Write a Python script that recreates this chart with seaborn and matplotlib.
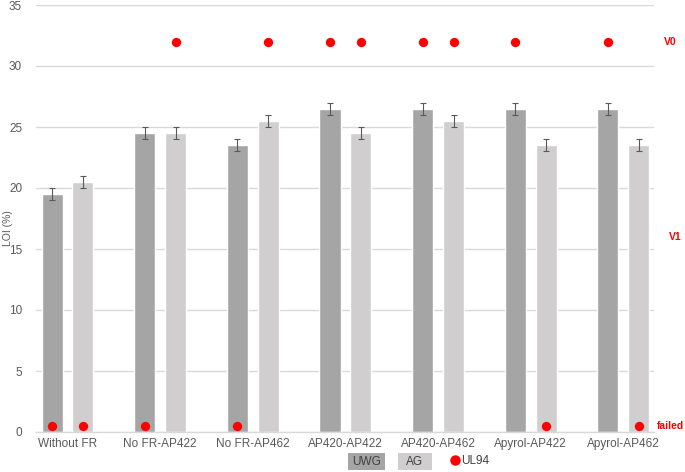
import numpy as np
import pandas as pd
import matplotlib
matplotlib.use("Agg")
import matplotlib.pyplot as plt
from matplotlib.patches import Rectangle
from matplotlib.transforms import blended_transform_factory
import seaborn as sns

# ── Data ──────────────────────────────────────────────────────────────────────
categories = ["Without FR", "No FR-AP422", "No FR-AP462", "AP420-AP422",
              "AP420-AP462", "Apyrol-AP422", "Apyrol-AP462"]
loi_uwg = [19.5, 24.5, 23.5, 26.5, 26.5, 26.5, 26.5]
loi_ag  = [20.5, 24.5, 25.5, 24.5, 25.5, 23.5, 23.5]
err_uwg = [0.5, 0.5, 0.5, 0.5, 0.5, 0.5, 0.5]
err_ag  = [0.5, 0.5, 0.5, 0.5, 0.5, 0.5, 0.5]
# UL94 rating shown as dot height: 32 = V0, 0.5 = failed
ul94_uwg = [0.5, 0.5, 0.5, 32, 32, 32, 32]
ul94_ag  = [0.5, 32, 32, 32, 32, 0.5, 0.5]
rating_labels = ["V0", "V1", "failed"]
rating_levels = [32, 16, 0.5]

UWG_C = "#A5A5A5"
AG_C = "#D0CECE"
RED = "#FF0000"
TXT = "#595959"
GRID = "#D9D9D9"

df = pd.DataFrame({
    "cat": categories * 2,
    "loi": loi_uwg + loi_ag,
    "grp": ["UWG"] * len(categories) + ["AG"] * len(categories),
})

sns.set_style("white")
plt.rcParams["font.family"] = ["Liberation Sans", "DejaVu Sans"]

fig = plt.figure(figsize=(6.85, 4.72), dpi=100)
ax = fig.add_axes([36 / 685, 40 / 472, (654 - 36) / 685, (432 - 5) / 472])

sns.barplot(data=df, x="cat", y="loi", hue="grp", order=categories,
            hue_order=["UWG", "AG"], palette=[UWG_C, AG_C],
            width=0.668, gap=0.32, errorbar=None, legend=False, ax=ax,
            saturation=1, zorder=2)

# error bars and UL94 dots placed on bar centres
for cont, errs, dots in zip(ax.containers, [err_uwg, err_ag], [ul94_uwg, ul94_ag]):
    xs = [b.get_x() + b.get_width() / 2 for b in cont]
    hs = [b.get_height() for b in cont]
    ax.errorbar(xs, hs, yerr=errs, fmt="none", ecolor="#595959",
                elinewidth=0.8, capsize=2, capthick=0.8, zorder=3)
    ax.scatter(xs, dots, s=45, color=RED, zorder=4, linewidths=0)

ax.set_ylim(0, 35)
ax.set_xlim(-0.34, 6.33)
ax.set_yticks(np.arange(0, 36, 5))
ax.yaxis.grid(True, color=GRID, linewidth=1)
ax.set_axisbelow(True)
for s in ["top", "right", "left"]:
    ax.spines[s].set_visible(False)
ax.spines["bottom"].set_color(GRID)
ax.spines["bottom"].set_linewidth(1)
ax.tick_params(axis="y", length=0, labelsize=8.5, colors=TXT, pad=10)
ax.tick_params(axis="x", length=0, labelsize=8.5, colors=TXT, pad=4)
ax.set_xlabel("")
ax.set_ylabel("")
fig.text(8 / 685, 1 - 228 / 472, "LOI (%)", rotation=90, ha="center",
         va="center", fontsize=7.5, color=TXT)

# UL94 rating labels at right
trans = blended_transform_factory(fig.transFigure, ax.transData)
for lab, lev, xp in zip(rating_labels, rating_levels, [664, 669, 657]):
    ax.text(xp / 685, lev, lab, transform=trans, color=RED, fontsize=7.5,
            fontweight="bold", ha="left", va="center")

# legend (Excel-style boxes)
for x0, w, lab, col in [(348, 37, "UWG", UWG_C), (398, 34, "AG", AG_C)]:
    fig.patches.append(Rectangle((x0 / 685, 1 - 470 / 472), w / 685, 17 / 472,
                                 transform=fig.transFigure, facecolor=col,
                                 edgecolor="none"))
    fig.text((x0 + w / 2) / 685, 1 - 462 / 472, lab, ha="center", va="center",
             fontsize=8.5, color="#404040")
fig.add_artist(plt.Line2D([455 / 685], [1 - 460 / 472], marker="o", color=RED,
                          markersize=6.5, linestyle="none",
                          transform=fig.transFigure))
fig.text(461 / 685, 1 - 461 / 472, "UL94", ha="left", va="center",
         fontsize=8.5, color="#404040")

fig.savefig("out.png", dpi=100, facecolor="white")
